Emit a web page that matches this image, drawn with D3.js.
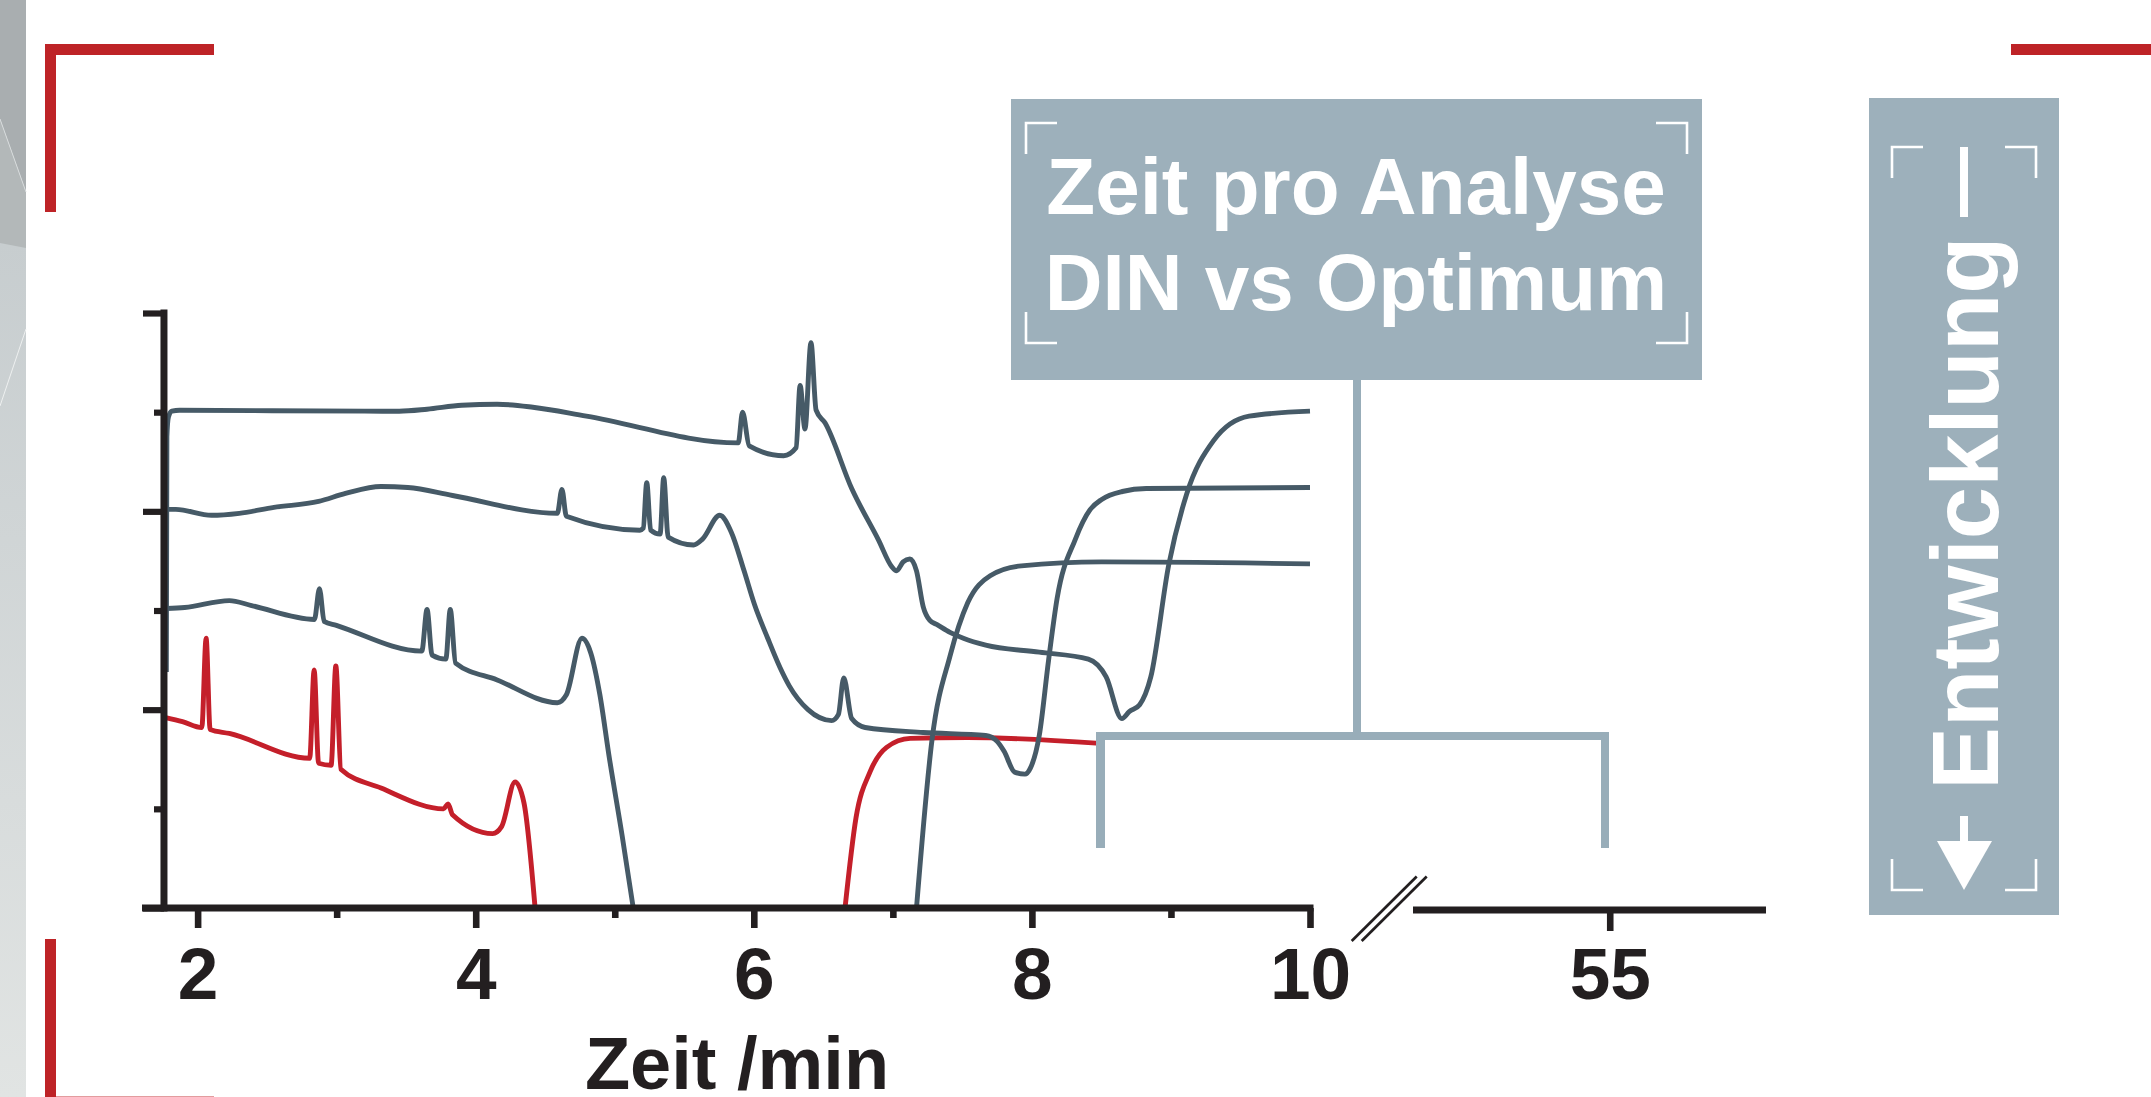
<!DOCTYPE html>
<html><head><meta charset="utf-8">
<script src="https://cdn.jsdelivr.net/npm/d3@7"></script>
<style>html,body{margin:0;padding:0;background:#fff;overflow:hidden}svg{display:block}</style>
</head><body>
<svg id="chart" width="2151" height="1097"></svg>
<script>
// ---------- data ----------
const xTicksMajor = [2, 4, 6, 8, 10];
const xTicksMinor = [3, 5, 7, 9];
const xTicksBreak = [55];
const yTicksMajor = [0, 2, 4, 6];
const yTicksMinor = [1, 3, 5];
const xTitle = "Zeit /min";
const boxTitle = ["Zeit pro Analyse", "DIN vs Optimum"];
const sideLabel = "Entwicklung";

// red chromatogram (optimum), [time/min, signal]
const redA = [[1.77,1.92],[1.891,1.88],[2.03,1.82],[2.061,2.72],[2.09,1.80],[2.228,1.76],[2.806,1.51],[2.838,2.40],[2.87,1.46],[2.96,1.44],[2.994,2.44],[3.03,1.40],[3.319,1.21],[3.769,1.00],[3.801,1.05],[3.833,0.94],[4.122,0.75],[4.186,0.82],[4.283,1.27],[4.347,1.06],[4.427,0.00]];
const redB = [[6.656,0.00],[6.735,0.91],[6.835,1.37],[6.955,1.62],[7.125,1.71],[7.535,1.72],[8.49,1.66]];
// grey chromatograms
const grey1 = [[1.775,2.38],[1.779,4.75],[1.79,4.95],[1.815,5.01],[1.87,5.02],[3.2,5.01],[3.45,5.01],[3.65,5.03],[3.9,5.07],[4.154,5.08],[4.411,5.05],[4.796,4.96],[5.888,4.69],[5.919,5.00],[5.967,4.66],[6.215,4.56],[6.304,4.64],[6.333,5.27],[6.368,4.83],[6.411,5.70],[6.448,5.02],[6.513,4.89],[6.704,4.23],[6.897,3.71],[6.993,3.44],[7.026,3.40],[7.074,3.49],[7.122,3.52],[7.17,3.40],[7.218,3.04],[7.266,2.90],[7.315,2.86],[7.411,2.78],[7.507,2.72],[7.668,2.65],[8.053,2.58],[8.406,2.51],[8.534,2.33],[8.647,1.91],[8.70,1.98],[8.775,2.05],[8.855,2.33],[8.984,3.46],[9.112,4.17],[9.305,4.71],[9.562,4.96],[10.0,5.01]];
const grey2 = [[1.777,4.02],[1.843,4.02],[2.10,3.96],[2.30,3.98],[2.549,4.04],[2.87,4.10],[3.063,4.18],[3.319,4.25],[3.512,4.24],[3.833,4.16],[4.587,3.98],[4.62,4.22],[4.652,3.95],[5.181,3.81],[5.205,3.83],[5.23,4.29],[5.258,3.81],[5.326,3.77],[5.352,4.34],[5.384,3.74],[5.567,3.66],[5.631,3.72],[5.755,3.96],[5.838,3.79],[5.93,3.40],[6.005,3.06],[6.10,2.72],[6.19,2.42],[6.255,2.24],[6.39,2.00],[6.56,1.89],[6.608,1.95],[6.647,2.32],[6.704,1.91],[6.801,1.82],[7.218,1.77],[7.668,1.74],[7.75,1.68],[7.80,1.58],[7.876,1.37],[7.95,1.35],[7.989,1.41],[8.053,1.74],[8.12,2.50],[8.181,3.12],[8.31,3.71],[8.42,4.02],[8.502,4.12],[8.65,4.20],[8.823,4.23],[10.0,4.24]];
const grey3A = [[1.777,3.02],[1.907,3.03],[2.228,3.10],[2.388,3.05],[2.84,2.91],[2.876,3.22],[2.91,2.89],[2.998,2.85],[3.612,2.59],[3.65,3.01],[3.686,2.55],[3.785,2.51],[3.817,3.01],[3.855,2.47],[4.154,2.30],[4.587,2.07],[4.652,2.15],[4.764,2.72],[4.828,2.57],[4.893,2.15],[4.957,1.55],[5.053,0.73],[5.133,0.00]];
const grey3B = [[7.17,0.00],[7.282,1.70],[7.411,2.54],[7.539,3.08],[7.70,3.35],[7.924,3.45],[8.502,3.49],[10.0,3.47]];

const yAxisAt = 1.758; // time position of the vertical axis

// ---------- setup ----------
const svg = d3.select("#chart");
const INK = "#231f20", GREY = "#465a67", RED = "#c41f2a", BOX = "#9db0bb", BRK = "#98adb9", CORNER = "#be2327";
const FONT = "'Liberation Sans', Arial, Helvetica, sans-serif";

const x = d3.scaleLinear().domain([1.6, 10]).range([142, 1310]);
const xb = d3.scaleLinear().domain([53.59, 56.12]).range([1413, 1766]);
const y = d3.scaleLinear().domain([0, 6]).range([908, 313]);

// ---------- background decoration ----------
const defs = svg.append("defs");
const lg = defs.append("linearGradient").attr("id","stripGrad").attr("x1",0).attr("y1",0).attr("x2",0).attr("y2",1);
lg.append("stop").attr("offset","0%").attr("stop-color","#c7cdcf");
lg.append("stop").attr("offset","100%").attr("stop-color","#e1e4e3");
svg.append("rect").attr("x",0).attr("y",243).attr("width",26).attr("height",854).attr("fill","url(#stripGrad)");
svg.append("polygon").attr("points","0,0 26,0 26,192 0,119").attr("fill","#a9aeb0");
svg.append("polygon").attr("points","0,119 26,192 26,248 0,243").attr("fill","#b3b8b9");
svg.append("line").attr("x1",0).attr("y1",119).attr("x2",26).attr("y2",192).attr("stroke","#d6dadb").attr("stroke-width",1);
svg.append("line").attr("x1",26).attr("y1",329).attr("x2",0).attr("y2",406).attr("stroke","#eef0f0").attr("stroke-width",1);

// red corner marks
[[45,44,169,11],[45,44,11,168],[45,939,11,170],[2011,44,140,11]].forEach(r=>{
  svg.append("rect").attr("x",r[0]).attr("y",r[1]).attr("width",r[2]).attr("height",r[3]).attr("fill",CORNER);
});
svg.append("rect").attr("x",56).attr("y",1096).attr("width",158).attr("height",1).attr("fill",CORNER).attr("opacity",0.45);

// ---------- traces ----------
const line = d3.line().x(d => x(d[0])).y(d => y(d[1])).curve(d3.curveMonotoneX);
const traces = [
  {data: redA, color: RED}, {data: redB, color: RED},
  {data: grey3A, color: GREY}, {data: grey3B, color: GREY},
  {data: grey2, color: GREY}, {data: grey1, color: GREY}
];
svg.append("g").selectAll("path").data(traces).join("path")
  .attr("d", d => line(d.data))
  .attr("fill","none").attr("stroke", d => d.color)
  .attr("stroke-width",4.9).attr("stroke-linejoin","round");

// ---------- axes ----------
function styleAxis(g, sw){
  g.selectAll(".tick line").attr("stroke",INK).attr("stroke-width",sw);
  g.selectAll(".tick text").attr("fill",INK).attr("font-family",FONT).attr("font-weight","bold").attr("font-size",73);
}
const gx = svg.append("g").attr("transform",`translate(0,${y(0)})`)
  .call(d3.axisBottom(x).tickValues(xTicksMajor).tickSize(20).tickPadding(19).tickFormat(d3.format("d")));
gx.select(".domain").attr("d",`M${x(1.6)},0H${x(10)+3.5}`).attr("stroke",INK).attr("stroke-width",7).attr("fill","none");
styleAxis(gx, 6.6);
const gxm = svg.append("g").attr("transform",`translate(0,${y(0)})`)
  .call(d3.axisBottom(x).tickValues(xTicksMinor).tickSize(10).tickFormat(""));
gxm.select(".domain").remove();
styleAxis(gxm, 6.6);

const gb = svg.append("g").attr("transform",`translate(0,${y(0)+2})`)
  .call(d3.axisBottom(xb).tickValues(xTicksBreak).tickSize(21).tickPadding(16).tickFormat(d3.format("d")));
gb.select(".domain").attr("d",`M${xb.range()[0]},0H${xb.range()[1]}`).attr("stroke",INK).attr("stroke-width",7).attr("fill","none");
styleAxis(gb, 6.6);

// break marks
[0, 10].forEach(o=>{
  svg.append("line").attr("x1",1351.7+o).attr("y1",941).attr("x2",1416.7+o).attr("y2",876.5)
    .attr("stroke",INK).attr("stroke-width",2.7);
});

const gy = svg.append("g").attr("transform",`translate(${x(yAxisAt)},0)`)
  .call(d3.axisLeft(y).tickValues(yTicksMajor).tickSize(21).tickFormat(""));
gy.select(".domain").attr("d",`M0,${y(6)-3.5}V${y(0)+3.5}`).attr("stroke",INK).attr("stroke-width",7).attr("fill","none");
styleAxis(gy, 6.2);
const gym = svg.append("g").attr("transform",`translate(${x(yAxisAt)},0)`)
  .call(d3.axisLeft(y).tickValues(yTicksMinor).tickSize(10).tickFormat(""));
gym.select(".domain").remove();
styleAxis(gym, 6.2);

svg.append("text").attr("x",737).attr("y",1089).attr("text-anchor","middle")
  .attr("font-family",FONT).attr("font-weight","bold").attr("font-size",74).attr("fill",INK).text(xTitle);

// ---------- annotation box ----------
function corners(g, x0, y0, x1, y1, arm, sw){
  const p = [
    `M${x0},${y0+arm}V${y0}H${x0+arm}`, `M${x1-arm},${y0}H${x1}V${y0+arm}`,
    `M${x0},${y1-arm}V${y1}H${x0+arm}`, `M${x1-arm},${y1}H${x1}V${y1-arm}`
  ];
  p.forEach(d => g.append("path").attr("d",d).attr("fill","none").attr("stroke","#fff").attr("stroke-width",sw));
}
const bracket = svg.append("g").attr("fill",BRK);
bracket.append("rect").attr("x",1353).attr("y",378).attr("width",8).attr("height",362);
bracket.append("rect").attr("x",1096).attr("y",732).attr("width",513).attr("height",8);
bracket.append("rect").attr("x",1096).attr("y",732).attr("width",9).attr("height",116);
bracket.append("rect").attr("x",1601).attr("y",732).attr("width",8).attr("height",116);

const box = svg.append("g");
box.append("rect").attr("x",1011).attr("y",99).attr("width",691).attr("height",281).attr("fill",BOX);
corners(box, 1026, 123, 1687, 343, 31, 2.6);
box.selectAll("text.t").data(boxTitle).join("text").attr("class","t")
  .attr("x",1356).attr("y",(d,i)=>214+i*96).attr("text-anchor","middle")
  .attr("font-family",FONT).attr("font-weight","bold").attr("font-size",80).attr("fill","#fff").text(d=>d);

// ---------- side label ----------
const side = svg.append("g");
side.append("rect").attr("x",1869).attr("y",98).attr("width",190).attr("height",817).attr("fill",BOX);
corners(side, 1892, 147, 2036, 890, 31, 2.6);
side.append("text").attr("transform","translate(1998,513) rotate(-90)").attr("text-anchor","middle")
  .attr("font-family",FONT).attr("font-weight","bold").attr("font-size",94).attr("fill","#fff").text(sideLabel);
side.append("rect").attr("x",1960).attr("y",147).attr("width",8).attr("height",70).attr("fill","#fff");
side.append("rect").attr("x",1960).attr("y",816).attr("width",8).attr("height",27).attr("fill","#fff");
side.append("polygon").attr("points","1937,841 1992,841 1964,890").attr("fill","#fff");
</script>
</body></html>
